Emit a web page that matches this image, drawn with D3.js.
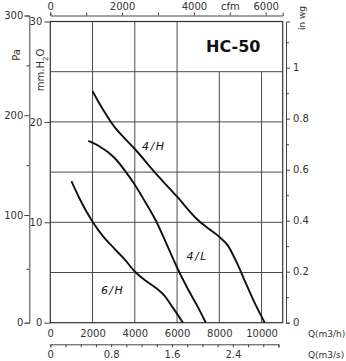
<!DOCTYPE html>
<html>
<head>
<meta charset="utf-8">
<script src="https://cdn.jsdelivr.net/npm/d3@7"></script>
<style>
  html, body { margin: 0; padding: 0; background: #fff; }
  svg { display: block; }
  text { font-family: "DejaVu Sans", sans-serif; fill: #333; }
  .tick line, .domain { stroke: #444; }
</style>
</head>
<body>
<svg id="chart" width="346" height="361"></svg>
<script>
// Fan characteristic curves: airflow Q (m3/h) vs static pressure (mm H2O)
const curve4H = [[2000, 23.05], [2500, 21.2], [3000, 19.6], [3500, 18.4], [4000, 17.3],
                 [5000, 14.85], [6000, 12.55], [7000, 10.2], [7600, 9.2], [8000, 8.55],
                 [8400, 7.7], [8800, 6.1], [9200, 4.2], [9600, 2.3], [10150, 0]];
const curve4L = [[1800, 18.1], [2300, 17.6], [3000, 16.5], [3600, 14.95], [4000, 13.75],
                 [4500, 12.0], [5000, 10.15], [5500, 7.85], [6000, 5.5], [6500, 3.4],
                 [7000, 1.5], [7360, 0]];
const curve6H = [[1000, 14.1], [1400, 12.3], [2000, 10.05], [2500, 8.6], [3000, 7.45],
                 [3500, 6.35], [4000, 5.1], [4500, 4.2], [5000, 3.45], [5400, 2.7],
                 [5800, 1.5], [6280, 0]];
const curveLabels = ["4/H", "4/L", "6/H"];
const curveLabelAt = [[4900, 17.2], [6950, 6.2], [2950, 2.9]];

// Axis ticks
const qTicks = [0, 2000, 4000, 6000, 8000, 10000];
const mmTicks = [0, 10, 20, 30];
const mmGrid = [5, 10, 15, 20, 25];
const paTicks = [0, 50, 100, 150, 200, 250, 300];
const paLabels = [0, 100, 200, 300];
const inwgTicks = [0, 0.1, 0.2, 0.3, 0.4, 0.5, 0.6, 0.7, 0.8, 0.9, 1.0, 1.1];
const inwgLabels = [0, 0.2, 0.4, 0.6, 0.8, 1.0];
const cfmTicks = [0, 1000, 2000, 3000, 4000, 5000, 6000];
const cfmLabels = [0, 2000, 4000, 6000];
const m3sTicks = [0, 0.2, 0.4, 0.6, 0.8, 1.0, 1.2, 1.4, 1.6, 1.8, 2.0, 2.2, 2.4, 2.6, 2.8, 3.0];
const m3sLabels = [0, 0.8, 1.6, 2.4];

const svg = d3.select("#chart");

const x = d3.scaleLinear().domain([0, 11000]).range([50.3, 282.7]);
const y = d3.scaleLinear().domain([0, 30]).range([322.7, 21.5]);
// pressure in Pa (printed scale)
const pa = d3.scaleLinear().domain([0, 100, 300]).range([y(0), 215, 15.5]);
// inches water gauge: 1 in wg = 25.4 mm H2O
const inwg = d3.scaleLinear().domain([0, 30 / 25.4]).range([y(0), y(30)]);
// cfm: 1 m3/h = 0.5886 cfm
const cfm = d3.scaleLinear().domain([0, 11000 * 0.5886]).range(x.range());
// m3/s
const m3s = d3.scaleLinear().domain([0, 3.0]).range([x(0), x(3.0 * 3600)]);

const gridColor = "#4a4a4a";

// grid: horizontal lines
svg.append("g").selectAll("line").data(mmGrid).join("line")
  .attr("x1", x(0)).attr("x2", x(11000))
  .attr("y1", d => y(d)).attr("y2", d => y(d))
  .attr("stroke", gridColor).attr("stroke-width", 1);

// grid: vertical lines (the two right ones stop below the title block)
svg.append("g").selectAll("line").data(qTicks.filter(d => d > 0)).join("line")
  .attr("x1", d => x(d)).attr("x2", d => x(d))
  .attr("y1", d => d >= 8000 ? y(25) : y(30)).attr("y2", y(0))
  .attr("stroke", gridColor).attr("stroke-width", 1);

// plot frame
svg.append("rect")
  .attr("x", x(0)).attr("y", y(30))
  .attr("width", x(11000) - x(0)).attr("height", y(0) - y(30))
  .attr("fill", "none").attr("stroke", "#333").attr("stroke-width", 1.2);

// left mm H2O axis
const mmAxis = svg.append("g").attr("transform", `translate(${x(0)},0)`)
  .call(d3.axisLeft(y).tickValues(mmTicks).tickSize(6).tickPadding(2).tickFormat(d3.format("d")));
mmAxis.select(".domain").remove();

// far-left Pa axis
const paAxis = svg.append("g").attr("transform", "translate(29.3,0)")
  .call(d3.axisLeft(pa).tickValues(paTicks).tickSizeOuter(0).tickSize(4).tickPadding(2)
    .tickFormat(d => paLabels.includes(d) ? d : ""));
paAxis.selectAll(".tick line").attr("x2", d => paLabels.includes(d) ? -5 : -3);

// right in wg axis
const wgAxis = svg.append("g").attr("transform", "translate(286,0)")
  .call(d3.axisRight(inwg).tickValues(inwgTicks).tickSizeOuter(0).tickSize(4).tickPadding(3)
    .tickFormat(d => inwgLabels.some(v => Math.abs(v - d) < 1e-9) ? d3.format("~g")(d) : ""));
wgAxis.selectAll(".tick line").attr("x2", d => inwgLabels.some(v => Math.abs(v - d) < 1e-9) ? 4 : 3);

// top cfm axis
svg.append("g").attr("transform", "translate(0,15.5)")
  .call(d3.axisTop(cfm).tickValues(cfmTicks).tickSizeOuter(0).tickSize(3).tickPadding(3)
    .tickFormat(d => d === 5000 ? "cfm" : (cfmLabels.includes(d) ? d : "")));

// bottom m3/h labels
const qAxis = svg.append("g").attr("transform", `translate(0,${y(0)})`)
  .call(d3.axisBottom(x).tickValues(qTicks).tickSize(0).tickPadding(7.3).tickFormat(d3.format("d")));
qAxis.select(".domain").remove();

// bottom m3/s axis
svg.append("g").attr("transform", "translate(0,344.3)")
  .call(d3.axisBottom(m3s).tickValues(m3sTicks).tickSizeOuter(0).tickSize(3).tickPadding(3.6)
    .tickFormat(d => m3sLabels.some(v => Math.abs(v - d) < 1e-9) ? d3.format("~g")(d) : ""));

svg.selectAll(".tick text").style("font-size", "10px").style("font-family", "DejaVu Sans");
svg.selectAll(".tick line, .domain").attr("stroke", "#444");

// unit labels
svg.append("text").attr("x", 308).attr("y", 337).style("font-size", "9px").text("Q(m3/h)");
svg.append("text").attr("x", 308).attr("y", 358).style("font-size", "9px").text("Q(m3/s)");

svg.append("text").attr("transform", "translate(16,55) rotate(-90)")
  .attr("text-anchor", "middle").attr("dy", "0.35em").style("font-size", "10px").text("Pa");

const mmLabel = svg.append("text").attr("transform", "translate(40,70) rotate(-90)")
  .attr("text-anchor", "middle").attr("dy", "0.35em").style("font-size", "10px");
mmLabel.append("tspan").text("mm.H");
mmLabel.append("tspan").attr("baseline-shift", "sub").style("font-size", "7px").text("2");
mmLabel.append("tspan").text("O");

svg.append("text").attr("transform", "translate(302,18) rotate(-90)")
  .attr("text-anchor", "middle").attr("dy", "0.35em").style("font-size", "9px").text("in wg");

// title
svg.append("text").attr("x", 206).attr("y", 52)
  .style("font-size", "16px").style("font-weight", "bold").style("fill", "#111").text("HC-50");

// curves
const line = d3.line().x(d => x(d[0])).y(d => y(d[1])).curve(d3.curveMonotoneX);
svg.append("g").selectAll("path").data([curve4H, curve4L, curve6H]).join("path")
  .attr("d", line).attr("fill", "none").attr("stroke", "#111").attr("stroke-width", 1.9);

svg.append("g").selectAll("text").data(curveLabels).join("text")
  .attr("x", (d, i) => x(curveLabelAt[i][0])).attr("y", (d, i) => y(curveLabelAt[i][1]))
  .attr("text-anchor", "middle")
  .style("font-size", "11px").style("font-style", "italic").style("letter-spacing", "1.5px")
  .style("fill", "#111").text(d => d);
</script>
</body>
</html>
